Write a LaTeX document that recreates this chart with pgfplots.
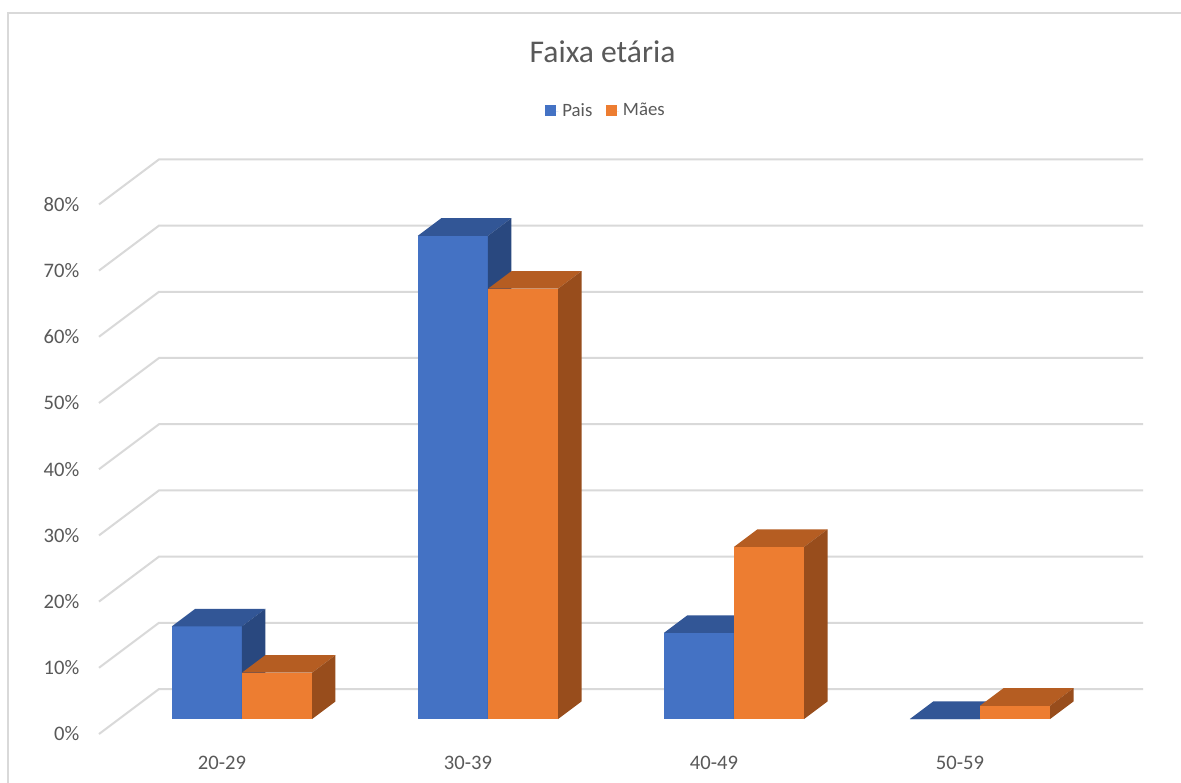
\documentclass[border=0pt]{standalone}
\usepackage{fontspec}
\setmainfont{Carlito}
\usepackage{pgfplots}
\pgfplotsset{compat=1.18}

\definecolor{paisF}{RGB}{68,114,196}
\definecolor{paisT}{RGB}{50,86,150}
\definecolor{paisS}{RGB}{41,72,127}
\definecolor{maesF}{RGB}{237,125,49}
\definecolor{maesT}{RGB}{181,93,34}
\definecolor{maesS}{RGB}{152,77,28}
\definecolor{gridc}{RGB}{217,217,217}
\definecolor{textc}{RGB}{89,89,89}

% one 3D column: #1 left edge, #2 right edge, #3 value (%), #4 front, #5 top, #6 side
\newcommand{\coluna}[6]{%
  \addplot3[forget plot, fill=#4, draw=none] coordinates {(#1,0.333,0) (#2,0.333,0) (#2,0.333,#3) (#1,0.333,#3)};
  \addplot3[forget plot, fill=#5, draw=none] coordinates {(#1,0.333,#3) (#2,0.333,#3) (#2,0.723,#3) (#1,0.723,#3)};
  \addplot3[forget plot, fill=#6, draw=none] coordinates {(#2,0.333,0) (#2,0.723,0) (#2,0.723,#3) (#2,0.333,#3)};
}

\begin{document}
\begin{tikzpicture}
\useasboundingbox (0pt,0pt) rectangle (590.5pt,391pt);
\fill[white] (0pt,0pt) rectangle (590.5pt,391pt);
\begin{axis}[
  at={(111pt,24pt)}, anchor=origin,
  disabledatascaling,
  x={(123pt,0pt)}, y={(30pt,22.5pt)}, z={(0pt,3.31pt)},
  xmin=-0.5, xmax=3.5, ymin=0, ymax=1, zmin=0, zmax=80,
  axis lines*=left, axis line style={draw=none},
  major tick length=0pt,
  clip=false,
  /pgf/number format/assume math mode=true,
  xtick={0,1,2,3}, xticklabels={20-29,30-39,40-49,50-59},
  ytick=\empty,
  ztick={0,10,...,80},
  zticklabel={\pgfmathprintnumber{\tick}\%},
  ticklabel style={font=\fontsize{10.3}{12}\selectfont, text=textc, inner sep=0pt},
  xticklabel style={anchor=base, yshift=-17.5pt},
  zticklabel style={anchor=east, xshift=-9.65pt},
  title={Faixa etária},
  title style={at={(axis cs:1.547,0,99.6)}, anchor=base, inner sep=0pt,
    font=\fontsize{15.8}{19}\selectfont, text=textc},
  legend columns=2,
  legend style={at={(axis cs:1.565,0,94.1)}, anchor=center, draw=none, fill=none,
    inner sep=0pt, font=\fontsize{9.4}{11}\selectfont, text=textc,
    /tikz/every even column/.append style={column sep=4.7pt}},
  legend image code/.code={%
    \path (0pt,0pt) -- (6.6pt,0pt);
    \fill[#1, draw=none] (0pt,-2.3pt) rectangle (5.5pt,3.2pt);},
]
% gridlines on the side wall and back wall
\pgfplotsinvokeforeach{0,10,...,80}{
  \addplot3[forget plot, draw=gridc, line width=1pt] coordinates {(-0.5,0,#1) (-0.5,1,#1) (3.5,1,#1)};
}
\addlegendimage{fill=paisF, draw=none}
\addlegendentry{Pais}
\addlegendimage{fill=maesF, draw=none}
\addlegendentry{Mães}
% 20-29
\coluna{-0.285}{0}{14}{paisF}{paisT}{paisS}
\coluna{0}{0.285}{7}{maesF}{maesT}{maesS}
% 30-39
\coluna{0.715}{1}{73}{paisF}{paisT}{paisS}
\coluna{1}{1.285}{65}{maesF}{maesT}{maesS}
% 40-49
\coluna{1.715}{2}{13}{paisF}{paisT}{paisS}
\coluna{2}{2.285}{26}{maesF}{maesT}{maesS}
% 50-59
\coluna{2.715}{3}{0}{paisF}{paisT}{paisS}
\coluna{3}{3.285}{2}{maesF}{maesT}{maesS}
\end{axis}
% chart area frame
\draw[gridc, line width=1pt] (4.15pt,-5pt) -- (4.15pt,384.35pt) -- (600pt,384.35pt);
\end{tikzpicture}
\end{document}
